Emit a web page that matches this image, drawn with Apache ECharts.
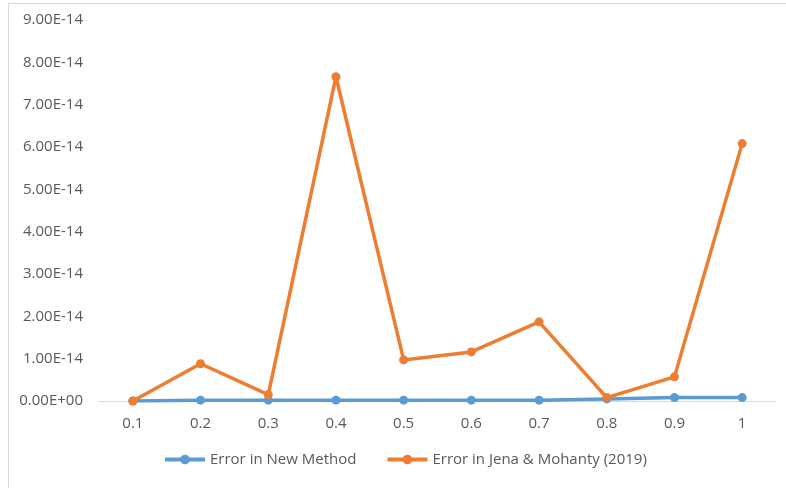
<!DOCTYPE html>
<html>
<head>
<meta charset="utf-8">
<script src="https://cdn.jsdelivr.net/npm/echarts@6/dist/echarts.min.js"></script>
<style>
  html, body { margin: 0; padding: 0; background: #ffffff; }
  #chart { width: 786px; height: 488px; }
</style>
</head>
<body>
<div id="chart"></div>
<script>
// Step size h
const categories = ['0.1', '0.2', '0.3', '0.4', '0.5', '0.6', '0.7', '0.8', '0.9', '1'];

// Absolute errors
const errorNewMethod = [0, 2e-16, 2e-16, 2e-16, 2e-16, 2e-16, 2e-16, 5e-16, 8e-16, 8e-16];
const errorJenaMohanty = [0, 8.8e-15, 1.5e-15, 7.66e-14, 9.7e-15, 1.16e-14, 1.87e-14, 8e-16, 5.7e-15, 6.08e-14];

const yMin = 0;
const yMax = 9e-14;
const yStep = 1e-14;

function sci(v) {
  const s = Number(v).toExponential(2).toUpperCase();
  const m = s.match(/^(-?[\d.]+)E([+-])(\d+)$/);
  if (!m) return s;
  return m[1] + 'E' + m[2] + (m[3].length < 2 ? '0' + m[3] : m[3]);
}

const chart = echarts.init(document.getElementById('chart'), null, { renderer: 'canvas' });
const font = '"Open Sans", "Liberation Sans", sans-serif';

chart.setOption({
  animation: false,
  backgroundColor: '#ffffff',
  graphic: [{
    type: 'rect',
    shape: { x: 8.5, y: 3.5, width: 900, height: 600 },
    style: { fill: 'none', stroke: '#d9d9d9', lineWidth: 1 },
    silent: true
  }],
  grid: { left: 99, right: 10, top: 20, bottom: 87, containLabel: false },
  legend: {
    bottom: 16,
    left: 158,
    itemWidth: 40,
    itemHeight: 12,
    itemGap: 29,
    lineStyle: { width: 4 },
    textStyle: { color: '#595959', fontSize: 15, fontFamily: font },
    data: ['Error in New Method', 'Error in Jena & Mohanty (2019)']
  },
  xAxis: {
    type: 'category',
    data: categories,
    boundaryGap: true,
    axisLine: { lineStyle: { color: '#d9d9d9', width: 1 } },
    axisTick: { show: false },
    axisLabel: { color: '#595959', fontSize: 15, fontFamily: font, margin: 15 }
  },
  yAxis: {
    type: 'value',
    min: yMin,
    max: yMax,
    interval: yStep,
    axisLine: { show: false },
    axisTick: { show: false },
    splitLine: { show: false },
    axisLabel: { color: '#595959', fontSize: 15, fontFamily: font, margin: 16, formatter: sci }
  },
  series: [
    {
      name: 'Error in New Method',
      type: 'line',
      data: errorNewMethod,
      symbol: 'circle',
      symbolSize: 9,
      lineStyle: { color: '#5b9bd5', width: 3.5 },
      itemStyle: { color: '#5b9bd5' },
      z: 2
    },
    {
      name: 'Error in Jena & Mohanty (2019)',
      type: 'line',
      data: errorJenaMohanty,
      symbol: 'circle',
      symbolSize: 9,
      lineStyle: { color: '#ed7d31', width: 3.5 },
      itemStyle: { color: '#ed7d31' },
      z: 3
    }
  ]
});
</script>
</body>
</html>
